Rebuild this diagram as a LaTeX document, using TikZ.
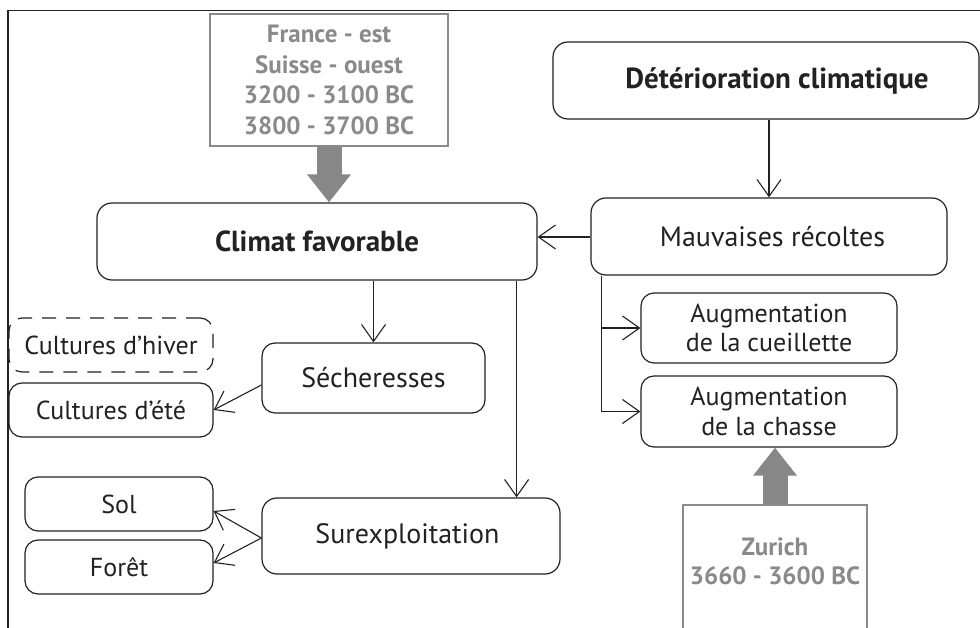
\documentclass[tikz,border=0pt]{standalone}
\usepackage{fontspec}
\setmainfont{PT Sans}
\usetikzlibrary{arrows.meta}
\definecolor{ink}{HTML}{222222}
\definecolor{grayink}{HTML}{8A8A8A}
\definecolor{grayfill}{HTML}{878787}
\tikzset{
  box/.style={draw=ink, text=ink, rounded corners=15pt, line width=1.2pt, inner sep=0pt, align=center, font=\fontsize{28}{30}\selectfont},
  smallbox/.style={box, rounded corners=13pt, font=\fontsize{26}{29.5}\selectfont},
  graybox/.style={draw=grayink, text=grayink, line width=2.5pt, inner sep=0pt, align=center, font=\bfseries\fontsize{25}{30.5}\selectfont},
  conn/.style={draw=ink, line width=1.1pt, -{Straight Barb[length=17pt,width=24pt]}},
  bigarrow/.style={draw=grayfill, line width=25pt, -{Triangle[length=28pt,width=42pt]}},
}
\begin{document}
\begin{tikzpicture}[x=1pt,y=-1pt]
\clip (0,0) rectangle (980,628);
\fill[white] (0,0) rectangle (980,628);
% frame
\draw[ink, line width=1.2pt] (8,640) -- (8,10.5) -- (990,10.5);

% nodes
\node[graybox, minimum width=238pt, minimum height=132pt] (france) at (329,80) {France - est\\Suisse - ouest\\3200 - 3100 BC\\3800 - 3700 BC};
\node[box, minimum width=440pt, minimum height=77pt, font=\bfseries\fontsize{29}{30}\selectfont] (climat) at (317,241.5) {Climat favorable};
\node[box, minimum width=426pt, minimum height=77pt, font=\bfseries\fontsize{29}{30}\selectfont] (deter) at (766,80.5) {\hspace*{22pt}Détérioration climatique};
\node[box, minimum width=356pt, minimum height=77pt] (mauv) at (769,236.5) {\hspace*{7pt}Mauvaises récoltes};
\node[smallbox, minimum width=256pt, minimum height=70pt] (cueil) at (769,328) {Augmentation\\de la cueillette};
\node[smallbox, minimum width=256pt, minimum height=71pt] (chasse) at (769,411.5) {Augmentation\\de la chasse};
\node[graybox, minimum width=184pt, minimum height=150pt] (zurichbox) at (775,580) {};
\node[text=grayink, font=\bfseries\fontsize{25}{29}\selectfont, align=center] (zurichtext) at (775,561.5) {Zurich\\3660 - 3600 BC};
\node[box, rounded corners=13pt, minimum width=223pt, minimum height=70pt] (secher) at (373.5,378) {Sécheresses};
\node[box, rounded corners=13pt, dashed, dash pattern=on 14pt off 10pt, minimum width=204pt, minimum height=54pt, font=\fontsize{26}{30}\selectfont] (hiver) at (111,345) {Cultures d’hiver};
\node[box, rounded corners=13pt, minimum width=204pt, minimum height=54pt, font=\fontsize{26}{30}\selectfont] (ete) at (111,410) {Cultures d’été};
\node[box, rounded corners=13pt, minimum width=188pt, minimum height=54pt, font=\fontsize{26}{30}\selectfont] (sol) at (119,504) {Sol};
\node[box, rounded corners=13pt, minimum width=188pt, minimum height=54pt, font=\fontsize{26}{30}\selectfont] (foret) at (119,567) {Forêt};
\node[box, minimum width=298pt, minimum height=76pt] (surex) at (411,536) {\hspace*{-7pt}Surexploitation};

% big gray arrows
\draw[bigarrow] (france.south) -- (france.south |- climat.north);
\draw[bigarrow] (zurichbox.north) -- (zurichbox.north |- chasse.south);

% connectors
\draw[conn] (deter.south -| mauv.north) -- (mauv.north);
\draw[conn] ([yshift=-0.5pt]mauv.west) -- ([yshift=-0.5pt]mauv.west -| climat.east);
\draw[conn] (secher.north |- climat.south) -- (secher.north);
\draw[conn] ([xshift=-21pt]climat.south east) -- ([xshift=-21pt]climat.south east |- surex.north);
\draw[conn] ([xshift=11pt]mauv.south west) |- (cueil.west);
\draw[conn] ([xshift=11pt]mauv.south west) |- (chasse.west);
\draw[conn] ([yshift=-7pt]secher.west) -- (ete.east);
\draw[conn] ([yshift=-2pt]surex.west) -- ([yshift=-7pt]sol.east);
\draw[conn] ([yshift=-2pt]surex.west) -- ([yshift=4pt]foret.east);
\end{tikzpicture}
\end{document}
